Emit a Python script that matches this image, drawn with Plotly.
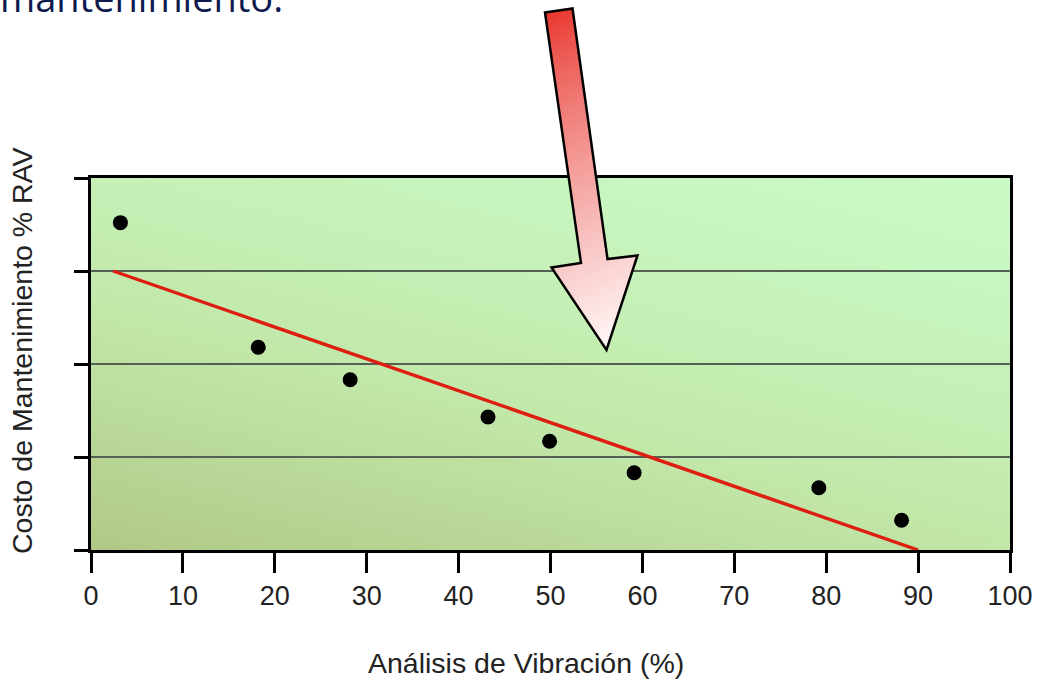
import numpy as np
import plotly.graph_objects as go

# Measured points: vibration-analysis share (%) vs. maintenance cost (% RAV, arbitrary units)
vibracion = [3.2, 18.2, 28.2, 43.2, 49.9, 59.1, 79.2, 88.2]
costo = [3.52, 2.18, 1.83, 1.43, 1.17, 0.83, 0.67, 0.32]

# Trend line end points
tendencia_x = [2.4, 90.0]
tendencia_y = [3.0, 0.0]

x_ticks = [0, 10, 20, 30, 40, 50, 60, 70, 80, 90, 100]
y_ticks = [0, 1, 2, 3, 4]
grid_levels = [1, 2, 3]

W, H = 1039, 684
# plot box in pixels
BOX_L, BOX_R, BOX_T, BOX_B = 91, 1010, 178, 550

FONT = "Liberation Sans, Arial, sans-serif"


def px(x):
    return x / W


def py(y):
    return 1 - y / H


fig = go.Figure()

# green gradient background of the plot box (darker towards bottom-left)
gx = np.linspace(0, 100, 41)
gy = np.linspace(0, 4, 41)
GX, GY = np.meshgrid(gx / 100, gy / 4)
shade = np.clip(0.62 * (1 - GY) + 0.38 * (1 - GX), 0, 1) ** 1.3
fig.add_trace(go.Heatmap(
    x=gx, y=gy, z=shade, zmin=0, zmax=1, zsmooth="best", showscale=False,
    colorscale=[[0, "rgb(202,250,198)"], [0.5, "rgb(194,232,170)"], [1, "rgb(176,200,134)"]],
    hoverinfo="skip",
))

# horizontal grid lines drawn over the gradient
for lvl in grid_levels:
    fig.add_trace(go.Scatter(
        x=[0, 100], y=[lvl, lvl], mode="lines",
        line=dict(color="rgb(84,96,84)", width=2), hoverinfo="skip",
    ))

fig.add_trace(go.Scatter(
    x=tendencia_x, y=tendencia_y, mode="lines",
    line=dict(color="rgb(222,30,16)", width=3.4), hoverinfo="skip",
))

fig.add_trace(go.Scatter(
    x=vibracion, y=costo, mode="markers",
    marker=dict(color="black", size=15, line=dict(width=0)),
))

# --- arrow drawn in page pixels with a red-to-white gradient ---
ARROW = [(545, 12.5), (572.5, 8.5), (607.5, 259), (637.5, 255.5),
         (606.5, 350), (551.5, 267.5), (581, 263)]
grad_dir = np.array([0.45, 1.0])
grad_dir = grad_dir / np.linalg.norm(grad_dir)
RED = np.array([232, 50, 42])
WHITE = np.array([255, 248, 248])


def clip_halfplane(poly, d, c, keep_greater):
    out = []
    n = len(poly)
    for i in range(n):
        p = np.array(poly[i]); q = np.array(poly[(i + 1) % n])
        sp = p @ d - c; sq = q @ d - c
        if not keep_greater:
            sp, sq = -sp, -sq
        if sp >= 0:
            out.append(tuple(p))
        if (sp >= 0) != (sq >= 0):
            t = sp / (sp - sq)
            out.append(tuple(p + t * (q - p)))
    return out


proj = [np.array(p) @ grad_dir for p in ARROW]
s_min, s_max = min(proj), max(proj)
n_bands = 70
edges = np.linspace(s_min, s_max, n_bands + 1)
shapes = []
for i in range(n_bands):
    lo, hi = edges[i] - 0.6, edges[i + 1] + 0.6
    poly = clip_halfplane(ARROW, grad_dir, lo, True)
    if len(poly) < 3:
        continue
    poly = clip_halfplane(poly, grad_dir, hi, False)
    if len(poly) < 3:
        continue
    t = (i + 0.5) / n_bands
    t = min(1.0, t ** 0.8)
    col = RED + (WHITE - RED) * t
    path = "M " + " L ".join(f"{px(x):.5f},{py(y):.5f}" for x, y in poly) + " Z"
    shapes.append(dict(type="path", path=path, xref="paper", yref="paper",
                       fillcolor=f"rgb({int(col[0])},{int(col[1])},{int(col[2])})",
                       line=dict(width=0), layer="above"))
outline = "M " + " L ".join(f"{px(x):.5f},{py(y):.5f}" for x, y in ARROW) + " Z"
shapes.append(dict(type="path", path=outline, xref="paper", yref="paper",
                   line=dict(color="black", width=2.5), layer="above"))

annotations = [
    dict(text="mantenimiento.", x=px(-2), y=py(25), xref="paper", yref="paper",
         xanchor="left", yanchor="bottom", showarrow=False,
         font=dict(family="Open Sans, Noto Sans, sans-serif", size=38, color="rgb(14,26,78)")),
    dict(text="Análisis de Vibración (%)", x=px(526), y=py(663), xref="paper", yref="paper",
         xanchor="center", yanchor="middle", showarrow=False,
         font=dict(family=FONT, size=28.5, color="#222222")),
    dict(text="Costo de Mantenimiento % RAV", x=px(22), y=py(351), xref="paper", yref="paper",
         xanchor="center", yanchor="middle", showarrow=False, textangle=-90,
         font=dict(family=FONT, size=28.5, color="#222222")),
]

fig.update_layout(
    width=W, height=H, margin=dict(l=0, r=0, t=0, b=0, autoexpand=False),
    paper_bgcolor="white", plot_bgcolor="rgb(198,240,188)",
    showlegend=False, shapes=shapes, annotations=annotations,
    xaxis=dict(
        domain=[px(BOX_L), px(BOX_R)], range=[0, 100], tickvals=x_ticks,
        ticks="outside", ticklen=20, tickwidth=3, tickcolor="black",
        showline=True, linecolor="black", linewidth=3, mirror=True,
        showgrid=False, zeroline=False, automargin=False,
        tickfont=dict(family=FONT, size=27, color="#222222"),
    ),
    yaxis=dict(
        domain=[py(BOX_B), py(BOX_T)], range=[0, 4], tickvals=y_ticks,
        ticks="outside", ticklen=14, tickwidth=3, tickcolor="black",
        showticklabels=False,
        showline=True, linecolor="black", linewidth=3, mirror=True,
        showgrid=False, zeroline=False, automargin=False,
    ),
)

fig.write_html("out.html")
